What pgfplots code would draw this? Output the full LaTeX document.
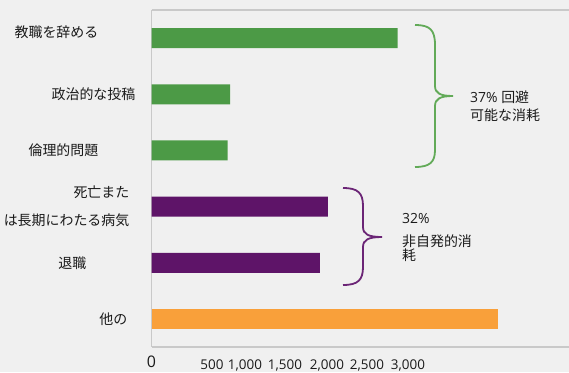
\documentclass[border=0pt]{standalone}
\usepackage{pgfplots}
\pgfplotsset{compat=1.18}
\usepackage{fontspec}
\setmainfont{Open Sans}
\newfontfamily\cjk{Noto Sans CJK JP}
\definecolor{bg}{HTML}{F0F0F0}
\definecolor{frm}{HTML}{C9C9C9}
\definecolor{gbar}{HTML}{4C9A46}
\definecolor{pbar}{HTML}{5E1468}
\definecolor{obar}{HTML}{F9A03A}
\definecolor{gbr}{HTML}{62AA58}
\definecolor{pbr}{HTML}{6B2576}
\definecolor{txt}{HTML}{1A1A1A}
\begin{document}
\begin{tikzpicture}[x=1bp,y=1bp]
\fill[bg] (0,0) rectangle (569,372);
\useasboundingbox (0,0) rectangle (569,372);
\begin{pgfinterruptboundingbox}
\begin{axis}[
  at={(151.5bp,25bp)}, anchor=south west, scale only axis,
  width=417.5bp, height=337bp,
  xmin=0, xmax=4994, ymin=-0.5, ymax=5.5, y dir=reverse,
  separate axis lines,
  axis x line*=box, axis y line*=left,
  axis background/.style={fill=bg},
  axis line style={-, draw=frm, line width=1.5bp},
  tick style={draw=none}, major tick length=0pt,
  /pgf/number format/assume math mode=true,
  xtick={0,724,1118,1597,2099,2577,3068},
  xticklabels={{\raisebox{-7bp}[0pt][0pt]{\fontsize{16}{16}\selectfont 0}},500,{1,000},{1,500},{2,000},{2,500},{3,000}},
  xticklabel style={font=\fontsize{13.5}{13.5}\selectfont, text=txt, anchor=north, inner sep=0pt, yshift=-12.5bp},
  ytick={0,1,2,3,4,5},
  yticklabels={
    {\raisebox{13bp}{教職を辞める}\rule{37bp}{0pt}},
    {政治的な投稿},
    {倫理的問題\rule{37bp}{0pt}},
    {死亡また\rule{6bp}{0pt}\\は長期にわたる病気\rule{6bp}{0pt}},
    {退職\rule{49bp}{0pt}},
    {他の\rule{8bp}{0pt}}},
  yticklabel style={font=\cjk\fontsize{14}{28}\selectfont, text=txt, anchor=east, align=right, inner sep=0pt, xshift=-16bp},
  xbar, bar width=20bp,
]
\addplot[xbar, bar shift=0pt, fill=gbar, draw=none] coordinates {(2945,0) (939,1) (911,2)};
\addplot[xbar, bar shift=0pt, fill=pbar, draw=none] coordinates {(2111,3) (2015,4)};
\addplot[xbar, bar shift=0pt, fill=obar, draw=none] coordinates {(4144,5)};
\end{axis}
\end{pgfinterruptboundingbox}
% braces
\draw[gbr, line width=1.8bp] (415,347) .. controls (430,347) and (435,342) .. (435,327) -- (435,286) .. controls (435,279) and (440,276) .. (453,276) .. controls (440,276) and (435,273) .. (435,266) -- (435,222) .. controls (435,210) and (430,205) .. (415,205);
\draw[pbr, line width=1.8bp] (343,184) .. controls (358,184) and (363,179) .. (363,166) -- (363,145) .. controls (363,138) and (368,135) .. (382,135) .. controls (368,135) and (363,132) .. (363,125) -- (363,105) .. controls (363,92) and (358,87) .. (343,87);
% annotations
\node[anchor=west, inner sep=0pt, text=txt, font=\fontsize{14}{14}\selectfont] at (470,275) {37\% {\cjk 回避}};
\node[anchor=west, inner sep=0pt, text=txt, font=\cjk\fontsize{14}{14}\selectfont] at (470,257) {可能な消耗};
\node[anchor=west, inner sep=0pt, text=txt, font=\fontsize{14}{14}\selectfont] at (402,153) {32\%};
\node[anchor=west, inner sep=0pt, text=txt, font=\cjk\fontsize{14}{14}\selectfont] at (402,131) {非自発的消};
\node[anchor=west, inner sep=0pt, text=txt, font=\cjk\fontsize{14}{14}\selectfont] at (402,117) {耗};
\end{tikzpicture}
\end{document}
